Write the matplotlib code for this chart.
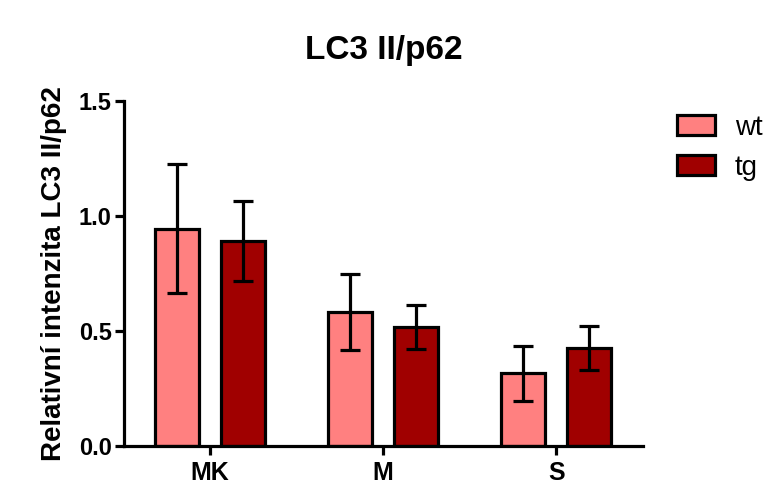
import numpy as np
import matplotlib.pyplot as plt

plt.rcParams['font.family'] = ['Liberation Sans', 'DejaVu Sans']

groups = ["MK", "M", "S"]
wt_mean = [0.945, 0.583, 0.317]
wt_err = [0.28, 0.165, 0.12]
tg_mean = [0.891, 0.517, 0.426]
tg_err = [0.172, 0.094, 0.095]

x = np.arange(len(groups))
w = 0.255
off = 0.19

fig = plt.figure(figsize=(7.68, 4.99), dpi=100)
ax = fig.add_axes([0.161, 0.106, 0.676, 0.692])

err_kw = dict(elinewidth=2.3, capsize=7.5, capthick=2.3, ecolor="black")
ax.bar(x - off, wt_mean, w, color="#FF8080", edgecolor="black", linewidth=2.3,
       yerr=wt_err, error_kw=err_kw, label="wt", zorder=2)
ax.bar(x + off, tg_mean, w, color="#A00000", edgecolor="black", linewidth=2.3,
       yerr=tg_err, error_kw=err_kw, label="tg", zorder=2)

ax.set_xlim(-0.5, 2.5)
ax.set_ylim(0, 1.5)
ax.set_yticks([0.0, 0.5, 1.0, 1.5])
ax.set_yticklabels(["0.0", "0.5", "1.0", "1.5"])
ax.set_xticks(x)
ax.set_xticklabels(groups)

for s in ["top", "right"]:
    ax.spines[s].set_visible(False)
for s in ["left", "bottom"]:
    ax.spines[s].set_linewidth(2.3)
ax.tick_params(width=2.3, length=6.5)
ax.tick_params(axis="y", labelsize=17, pad=2)
ax.tick_params(axis="x", labelsize=18, pad=4)
for lab in ax.get_xticklabels() + ax.get_yticklabels():
    lab.set_fontweight("bold")

ax.set_ylabel("Relativní intenzita LC3 II/p62", fontsize=20, fontweight="bold")
ax.yaxis.set_label_coords(-0.11, 0.5)
fig.suptitle("LC3 II/p62", fontsize=24, fontweight="bold", x=0.5, y=0.93)

leg = fig.legend(loc="upper left", bbox_to_anchor=(0.8815, 0.770), frameon=False,
                 fontsize=20, handlelength=1.37, handleheight=0.72,
                 labelspacing=0.5, handletextpad=0.72, borderpad=0,
                 borderaxespad=0)

fig.savefig("out.png", dpi=100)
